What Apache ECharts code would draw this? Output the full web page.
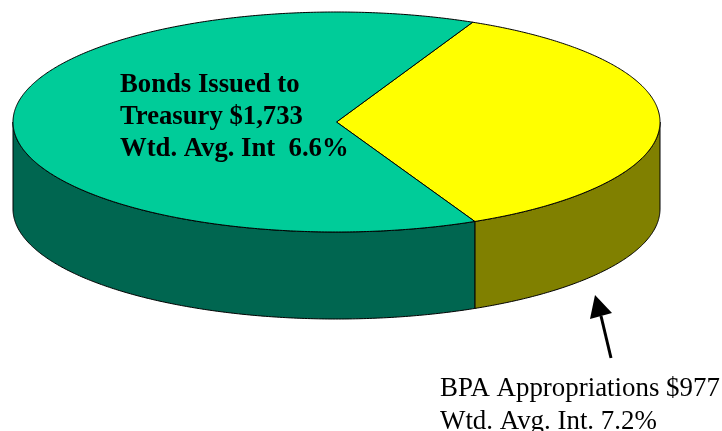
<!DOCTYPE html>
<html><head><meta charset="utf-8">
<style>html,body{margin:0;padding:0;background:#fff}#c{width:722px;height:431px}</style>
<script src="https://cdn.jsdelivr.net/npm/echarts@6/dist/echarts.min.js"></script>
</head><body><div id="c"></div>
<script>
const categories = ['BPA Appropriations', 'Bonds Issued to Treasury'];
const amounts = [977, 1733];
const topColors = ['#ffff00', '#00cc99'];
const sideColors = ['#808000', '#006650'];
const bondsLabel = ['Bonds Issued to', 'Treasury $1,733', 'Wtd. Avg. Int  6.6%'];
const bpaLabel = ['BPA Appropriations $977', 'Wtd. Avg. Int. 7.2%'];

const cx = 336.5, cy = 122, rx = 323.5, ry = 110, depth = 87, startDeg = 24.9;
const total = amounts.reduce((a, b) => a + b, 0);
const pt = (d, dy) => {
  const r = d * Math.PI / 180;
  return [cx + rx * Math.sin(r), cy - ry * Math.cos(r) + (dy || 0)];
};
const arc = (a, b, dy) => {
  const out = [], n = Math.max(2, Math.ceil(Math.abs(b - a) * 2));
  for (let i = 0; i <= n; i++) out.push(pt(a + (b - a) * i / n, dy));
  return out;
};
const line = { stroke: '#000', lineWidth: 1 };

function renderItem(params, api) {
  const i = params.dataIndex;
  let a = startDeg;
  for (let k = 0; k < i; k++) a += amounts[k] / total * 360;
  const b = a + api.value(1) / total * 360;
  const children = [];
  // visible wall: the part of the slice facing the viewer (90 to 270 degrees)
  const s = Math.max(a, 90), e = Math.min(b, 270);
  if (e > s) {
    children.push({
      type: 'polygon',
      shape: { points: arc(s, e, 0).concat(arc(e, s, depth)) },
      style: Object.assign({ fill: sideColors[i] }, line)
    });
  }
  children.push({
    type: 'polygon',
    shape: { points: [[cx, cy]].concat(arc(a, b, 0)) },
    style: Object.assign({ fill: topColors[i] }, line)
  });
  return { type: 'group', children };
}

const serif = '"Liberation Serif","Times New Roman",serif';
const textEl = (lines, x, y, lh, size, weight) => lines.map((t, i) => ({
  type: 'text', x: x, y: y + i * lh, z: 10,
  style: { text: t, fill: '#000', font: weight + ' ' + size + 'px ' + serif,
           textVerticalAlign: 'bottom', verticalAlign: 'bottom', textAlign: 'left', align: 'left', whiteSpace: 'pre' }
}));

const chart = echarts.init(document.getElementById('c'), null, { renderer: 'canvas' });
chart.setOption({
  animation: false,
  backgroundColor: '#fff',
  grid: { left: 0, right: 0, top: 0, bottom: 0 },
  xAxis: { type: 'value', min: 0, max: 722, show: false },
  yAxis: { type: 'value', min: 0, max: 431, inverse: true, show: false },
  series: [{
    type: 'custom',
    coordinateSystem: 'none',
    renderItem,
    data: categories.map((c, i) => ({ name: c, value: [i, amounts[i]] })),
    silent: true
  }],
  graphic: textEl(bondsLabel, 120, 99, 32, 26.7, 'bold')
    .concat(textEl(bpaLabel, 440, 402, 33, 26.9, 'normal'))
    .concat([
      { type: 'line', z: 10, shape: { x1: 611, y1: 358, x2: 601, y2: 316 }, style: { stroke: '#000', lineWidth: 3 } },
      { type: 'polygon', z: 10, shape: { points: [[595, 295], [590, 319], [612, 313]] }, style: { fill: '#000' } }
    ])
});
</script></body></html>
